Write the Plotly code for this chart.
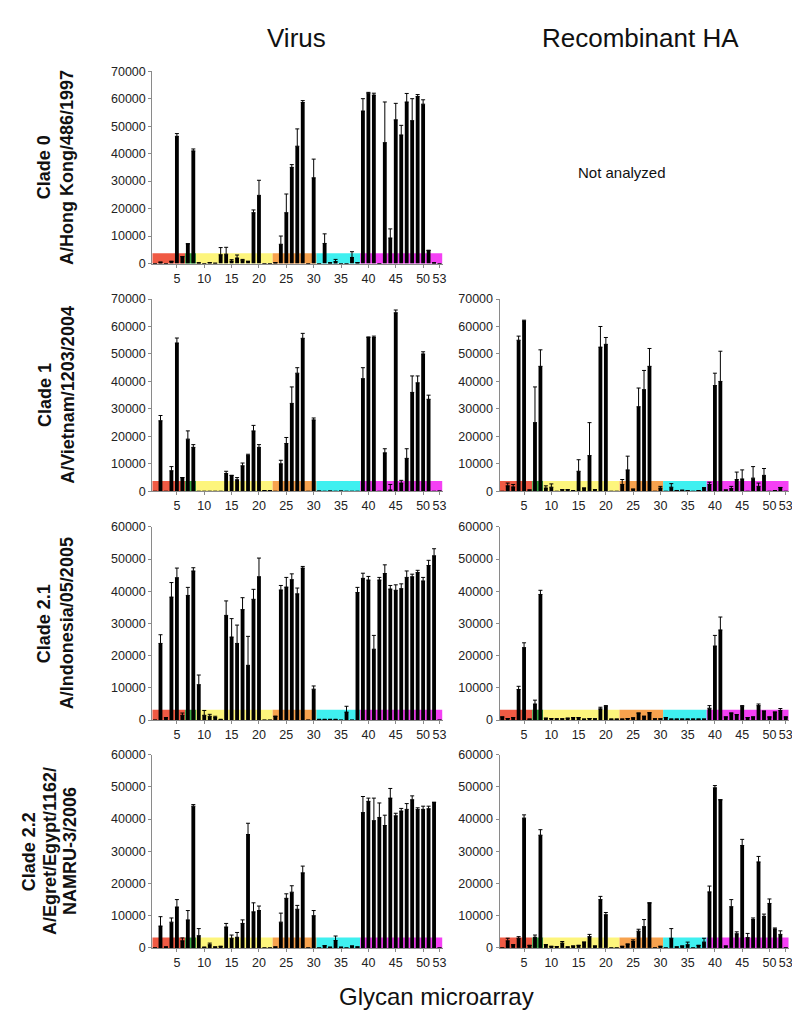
import plotly.graph_objects as go

W, H = 800, 1013
glycans = list(range(1, 54))
tick_vals = [5, 10, 15, 20, 25, 30, 35, 40, 45, 50, 53]

# glycan group boundaries and colours (coloured band along the x axis)
group_edges = [0.5, 6.5, 8.5, 22.5, 30.5, 38.5, 53.5]
group_colors = ["#f05a44", "#3aa843", "#fdf57c", "#f7a24e", "#3ff0f0", "#f440f4"]

# ---- Virus, Clade 0 A/Hong Kong/486/1997
v0_vals = [0, 500, 0, 800, 46300, 2500, 7200, 41000, 200, 0,
           300, 100, 3200, 3400, 900, 2000, 1200, 800, 18500, 24800,
           0, 0, 300, 7000, 18500, 35000, 42700, 58600, 0, 31200,
           0, 7300, 200, 700, 0, 0, 2200, 300, 55500, 62000,
           61300, 0, 44000, 9300, 52300, 46800, 58800, 52000, 60800, 58000,
           4800, 200, 0]
v0_errs = [0, 0, 0, 0, 1000, 0, 0, 700, 0, 0,
           0, 0, 2600, 2500, 500, 1100, 300, 0, 1000, 5500,
           0, 0, 0, 3000, 6800, 1000, 6300, 700, 0, 6800,
           0, 3500, 0, 800, 0, 0, 2100, 0, 4500, 300,
           700, 0, 14800, 3300, 6000, 3500, 3100, 8000, 700, 1600,
           0, 0, 0]

# ---- Virus, Clade 1 A/Vietnam/1203/2004
v1_vals = [0, 25700, 0, 7500, 54000, 5000, 19000, 16000, 0, 0,
           0, 0, 0, 6500, 5800, 4200, 9300, 13000, 22000, 16000,
           200, 200, 0, 10000, 17400, 32000, 43000, 55700, 0, 26000,
           100, 0, 100, 0, 100, 0, 0, 0, 41000, 56000,
           56000, 0, 14000, 500, 65000, 3000, 12000, 36000, 39500, 50000,
           33500, 0, 100]
v1_errs = [0, 1900, 0, 1500, 1800, 0, 3000, 1000, 0, 0,
           0, 0, 0, 800, 0, 800, 1000, 500, 2000, 1000,
           0, 0, 0, 1300, 2200, 6000, 2000, 1800, 0, 700,
           0, 0, 0, 0, 0, 0, 0, 0, 4000, 200,
           500, 0, 1500, 2000, 1000, 1000, 3500, 6000, 2500, 800,
           1500, 0, 0]

# ---- Recombinant HA, Clade 1
r1_vals = [0, 2000, 1600, 55000, 62000, 500, 25000, 45500, 1200, 1500,
           0, 600, 600, 200, 7300, 1200, 13000, 600, 52500, 53500,
           0, 0, 2500, 7800, 800, 30800, 37000, 45500, 0, 1200,
           0, 1500, 300, 400, 200, 0, 200, 1300, 2500, 38500,
           40000, 500, 1000, 4300, 4500, 0, 4800, 1800, 5800, 0,
           200, 1400, 0]
r1_errs = [0, 1000, 900, 1500, 300, 0, 13000, 6000, 800, 1200,
           0, 0, 0, 0, 4200, 0, 12000, 0, 7500, 2500,
           0, 0, 1800, 5000, 0, 6800, 7000, 6500, 0, 600,
           0, 1300, 0, 0, 0, 0, 0, 0, 800, 4500,
           11000, 0, 800, 2700, 3300, 0, 4200, 1200, 2500, 0,
           0, 0, 0]

# ---- Virus, Clade 2.1 A/Indonesia/05/2005
v21_vals = [0, 23800, 800, 38200, 44200, 1500, 38700, 46300, 11000, 1500,
            1200, 800, 100, 32500, 25800, 23800, 34300, 17000, 37500, 44500,
            0, 0, 1200, 40400, 41300, 43600, 39200, 47200, 0, 9600,
            100, 100, 100, 100, 0, 2500, 0, 39600, 44000, 43500,
            22000, 43500, 45500, 40700, 40300, 40800, 44300, 44500, 45800, 43200,
            48000, 51000, 0]
v21_errs = [0, 2700, 0, 4500, 3000, 700, 2500, 1000, 3000, 1500,
            600, 400, 0, 4500, 5700, 5700, 3700, 9000, 3100, 5800,
            0, 0, 0, 1400, 3000, 1800, 1800, 500, 0, 1000,
            0, 0, 0, 0, 0, 1800, 0, 1600, 1600, 1100,
            4300, 800, 2700, 1100, 1700, 1500, 2000, 800, 700, 1100,
            1600, 2200, 0]

# ---- Recombinant HA, Clade 2.1
r21_vals = [1000, 500, 800, 9500, 22500, 300, 5000, 39000, 600, 500,
            400, 400, 600, 800, 800, 300, 500, 400, 3500, 4300,
            300, 300, 300, 500, 700, 2200, 1200, 2300, 400, 400,
            800, 300, 300, 300, 300, 300, 300, 300, 3700, 23000,
            28000, 1000, 2200, 1700, 4300, 800, 1000, 4500, 2800, 1000,
            2500, 3000, 1000]
r21_errs = [0, 0, 0, 1000, 1500, 0, 1200, 1300, 0, 0,
            0, 0, 0, 0, 0, 0, 0, 0, 500, 200,
            0, 0, 0, 0, 0, 0, 0, 0, 0, 0,
            0, 0, 0, 0, 0, 0, 0, 0, 800, 3300,
            4000, 0, 0, 0, 200, 0, 0, 500, 0, 0,
            0, 600, 0]

# ---- Virus, Clade 2.2 A/Egret/Egypt/1162/NAMRU-3/2006
v22_vals = [0, 6800, 300, 8000, 12700, 2200, 8700, 44000, 3800, 200,
            1000, 300, 500, 6500, 3000, 3300, 7600, 35200, 11200, 11600,
            0, 0, 300, 8000, 15400, 17300, 12000, 23300, 0, 10000,
            0, 700, 200, 2300, 200, 0, 600, 300, 42000, 45500,
            39500, 40500, 38000, 46500, 41000, 42500, 43000, 46000, 43000, 43000,
            43200, 45200, 0]
v22_errs = [0, 2900, 0, 1300, 2300, 900, 2900, 500, 2200, 0,
            500, 0, 0, 1100, 1000, 1500, 1100, 3500, 2800, 1400,
            0, 0, 0, 2800, 1400, 2000, 1200, 2100, 0, 1600,
            0, 0, 0, 1400, 0, 0, 0, 0, 5000, 1000,
            7000, 4500, 3200, 3000, 800, 800, 1800, 1200, 500, 1000,
            800, 0, 0]

# ---- Recombinant HA, Clade 2.2
r22_vals = [0, 2200, 1000, 3000, 40300, 800, 3300, 35000, 1000, 500,
            400, 1500, 300, 600, 800, 1800, 3500, 600, 15000, 10300,
            0, 0, 500, 1200, 2000, 5200, 6600, 14000, 0, 500,
            0, 3000, 300, 600, 1000, 0, 800, 1800, 17400, 49700,
            46000, 600, 12800, 4400, 31800, 3200, 8800, 26700, 9800, 13800,
            5900, 4200, 0]
r22_errs = [0, 800, 0, 500, 1000, 0, 700, 1700, 0, 0,
            0, 500, 0, 0, 0, 0, 700, 0, 1000, 700,
            0, 0, 0, 0, 500, 600, 2200, 0, 0, 0,
            0, 3000, 0, 0, 800, 0, 0, 1200, 1800, 700,
            0, 0, 2200, 600, 1900, 1300, 500, 1700, 700, 1400,
            300, 1100, 0]

row_labels = [
    ["Clade 0", "A/Hong Kong/486/1997"],
    ["Clade 1", "A/Vietnam/1203/2004"],
    ["Clade 2.1", "A/Indonesia/05/2005"],
    ["Clade 2.2", "A/Egret/Egypt/1162/", "NAMRU-3/2006"],
]

panels = [
    (0, 0, v0_vals, v0_errs, 70000),
    (1, 0, v1_vals, v1_errs, 70000),
    (1, 1, r1_vals, r1_errs, 70000),
    (2, 0, v21_vals, v21_errs, 60000),
    (2, 1, r21_vals, r21_errs, 60000),
    (3, 0, v22_vals, v22_errs, 60000),
    (3, 1, r22_vals, r22_errs, 60000),
]

# layout geometry in pixels
col_px = [(145, 437), (494, 785)]
row_px = [(57, 252), (288, 483), (519, 715), (750, 946)]

FONT = "Liberation Sans, Arial, Helvetica, sans-serif"

fig = go.Figure()
layout = dict(
    width=W, height=H, margin=dict(l=0, r=0, t=0, b=0),
    paper_bgcolor="white", plot_bgcolor="white", showlegend=False,
    font=dict(family=FONT, color="#222", size=12.5),
)
shapes = []
annotations = []

for k, (r, c, vals, errs, ymax) in enumerate(panels, start=1):
    xa = "x" if k == 1 else f"x{k}"
    ya = "y" if k == 1 else f"y{k}"
    fig.add_trace(go.Bar(
        x=glycans, y=vals, xaxis=xa, yaxis=ya,
        marker=dict(color="black", line=dict(width=0)),
        width=0.7,
        error_y=dict(type="data", array=errs, arrayminus=[0] * len(errs),
                     symmetric=False, color="black", thickness=1, width=2),
    ))
    x0p, x1p = col_px[c]
    y0p, y1p = row_px[r]
    axis_common = dict(showline=True, linecolor="#8a8a8a", linewidth=1,
                       showgrid=False, zeroline=False, ticks="outside",
                       ticklen=3, tickcolor="#8a8a8a",
                       tickfont=dict(size=12.5, color="#222", family=FONT))
    layout["xaxis" if k == 1 else f"xaxis{k}"] = dict(
        domain=[x0p / W, x1p / W], range=[0.5, 53.6],
        anchor=ya, tickvals=tick_vals, ticktext=[str(t) for t in tick_vals],
        **axis_common)
    layout["yaxis" if k == 1 else f"yaxis{k}"] = dict(
        domain=[1 - y1p / H, 1 - y0p / H], range=[0, ymax],
        anchor=xa, dtick=10000, tickformat="d", **axis_common)
    for g in range(len(group_colors)):
        shapes.append(dict(
            type="rect", xref=xa, yref=f"{ya} domain",
            x0=group_edges[g], x1=group_edges[g + 1], y0=0, y1=0.054,
            fillcolor=group_colors[g], line=dict(width=0), layer="below"))


def add_text(text, xp, yp, size, angle=0):
    annotations.append(dict(text=text, x=xp / W, y=1 - yp / H, xref="paper", yref="paper",
                            showarrow=False, xanchor="center", yanchor="middle",
                            textangle=angle,
                            font=dict(size=size, family=FONT, color="#111")))


# column titles and other texts
add_text("Virus", 290, 23, 26)
add_text("Recombinant HA", 636, 23, 26)
add_text("Glycan microarray", 431, 995, 24)
add_text("Not analyzed", 617, 160, 15)

# row labels
for r, lines in enumerate(row_labels):
    yc = (row_px[r][0] + row_px[r][1]) / 2
    xs = [37, 60] if len(lines) == 2 else [21, 42, 63]
    for line, xp in zip(lines, xs):
        add_text(f"<b>{line}</b>", xp, yc, 18, angle=-90)

layout["shapes"] = shapes
layout["annotations"] = annotations
fig.update_layout(**layout)
fig.write_html("out.html")
